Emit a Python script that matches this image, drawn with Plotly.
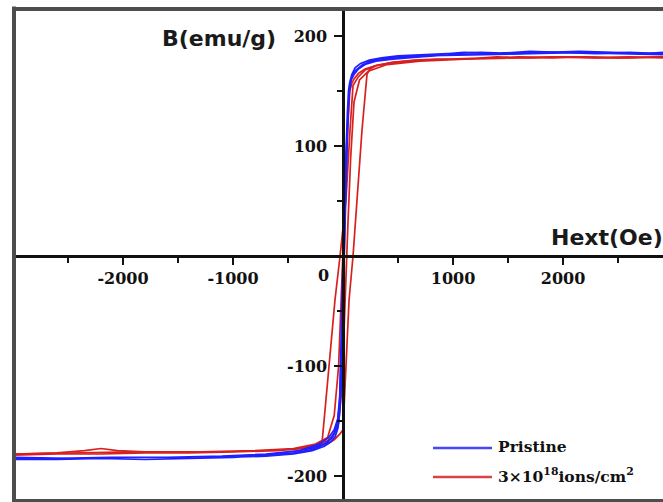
import plotly.graph_objects as go

# ---------------- data ----------------
# Pristine, loop 1 : descending branch then ascending branch
blue1_H = [2900, 2600, 2300, 2000, 1700, 1400, 1100, 850, 650, 480, 350, 250, 170, 120, 90, 70, 58, 50, 40, 28, 15, 6, 0, -6, -12, -20, -32, -50, -75, -110, -170, -280, -450, -700, -1000, -1400, -1800, -2200, -2600, -2991,
           -2991, -2600, -2200, -1800, -1400, -1000, -700, -450, -280, -170, -110, -70, -45, -28, -15, -5, 3, 12, 22, 35, 48, 62, 80, 110, 160, 240, 350, 500, 700, 950, 1250, 1550, 1850, 2150, 2450, 2750, 2909]
blue1_B = [184, 185, 184, 185, 186, 184, 185, 183, 182, 181, 179, 177, 173, 169, 165, 161, 156, 150, 130, 100, 60, 25, 0, -40, -80, -110, -135, -152, -160, -166, -171, -176, -179, -181, -183, -184, -185, -184, -185, -185,
           -185, -185, -184, -185, -184, -183, -182, -180, -177, -173, -169, -164, -156, -140, -115, -75, -30, 15, 60, 105, 140, 158, 165, 171, 175, 178, 180, 182, 183, 184, 185, 184, 185, 186, 185, 184, 185]

# Pristine, loop 2 (slightly offset repeat)
blue2_H = [2909, 2500, 2000, 1500, 1000, 700, 450, 300, 200, 140, 100, 75, 60, 48, 35, 20, 8, -2, -10, -18, -30, -48, -80, -130, -220, -400, -700, -1100, -1600, -2100, -2600, -2991,
           -2991, -2500, -2000, -1500, -1000, -650, -400, -250, -150, -95, -60, -38, -22, -10, 2, 14, 28, 42, 56, 75, 110, 180, 300, 500, 800, 1200, 1700, 2200, 2600, 2909]
blue2_B = [183, 184, 185, 184, 183, 181, 179, 177, 174, 170, 165, 160, 152, 135, 110, 70, 30, -10, -55, -95, -128, -148, -158, -165, -171, -177, -180, -182, -183, -183, -184, -184,
           -183, -184, -183, -183, -182, -180, -177, -174, -170, -165, -157, -142, -118, -80, -35, 15, 70, 118, 148, 160, 168, 174, 178, 180, 182, 183, 184, 185, 184, 184]

# 3x10^18 ions/cm2 : descending (left sheared line) then ascending (right sheared line)
red1_H = [2909, 2600, 2300, 2000, 1700, 1400, 1100, 850, 650, 450, 300, 200, 140, 105, 91, 64, 27, -27, -73, -127, -160, -191, -230, -350, -600, -1000, -1400, -1800, -2050, -2200, -2350, -2600, -2991,
          -2991, -2600, -2200, -1800, -1400, -1000, -600, -300, -150, -80, -30, 0, 27, 55, 91, 127, 173, 218, 245, 300, 450, 700, 1000, 1300, 1600, 1900, 2200, 2500, 2909]
red1_B = [180, 181, 180, 181, 180, 181, 179, 179, 178, 176, 173, 169, 163, 158, 155, 115, 51, 0, -40, -100, -135, -170, -173, -175, -177, -178, -178, -178, -177, -175, -177, -179, -180,
          -181, -180, -180, -179, -179, -178, -177, -174, -171, -167, -162, -158, -100, -40, 0, 51, 115, 165, 170, 173, 176, 178, 179, 180, 181, 180, 181, 180, 181]

# 3x10^18 ions/cm2 : second (steeper) loop following the knees
red2_H = [2909, 2400, 1900, 1400, 1000, 700, 450, 300, 200, 140, 100, 80, 62, 45, 25, 5, -15, -40, -80, -140, -250, -450, -800, -1300, -1900, -2500, -2991,
          -2991, -2400, -1800, -1200, -800, -450, -250, -140, -80, -40, -15, 5, 22, 45, 70, 100, 150, 230, 400, 700, 1100, 1600, 2100, 2600, 2909]
red2_B = [181, 180, 181, 180, 179, 178, 176, 173, 170, 166, 161, 157, 150, 120, 70, 15, -40, -100, -145, -165, -171, -175, -177, -178, -178, -179, -180,
          -180, -179, -178, -178, -177, -175, -172, -168, -162, -152, -125, -80, -30, 30, 90, 140, 160, 168, 174, 177, 179, 180, 181, 180, 181]

x_major = [-2000, -1000, 1000, 2000]
x_major_text = ["-2000", "-1000", "1000", "2000"]
x_minor = [-2500, -1500, -500, 500, 1500, 2500]
y_major = [-200, -100, 100, 200]
y_major_text = ["-200", "-100", "100", "200"]
y_minor = [-150, -50, 50, 150]

series_names = ["Pristine", "3×10<sup>18</sup>ions/cm<sup>2</sup>"]
BLUE = "#1f1fff"
RED = "#d8201f"

x_range = [-2991, 2909]
y_range = [-221.8, 224.5]

# ---------------- figure ----------------
fig = go.Figure()
for H, B, c in [(red1_H, red1_B, RED), (red2_H, red2_B, RED),
                (blue1_H, blue1_B, BLUE), (blue2_H, blue2_B, BLUE)]:
    fig.add_trace(go.Scatter(x=H, y=B, mode="lines", line=dict(color=c, width=1.7),
                             showlegend=False, hoverinfo="skip"))

tickfont = dict(family="DejaVu Serif", size=16, color="#111111", weight="bold")

x_pos = (0 - y_range[0]) / (y_range[1] - y_range[0])
y_pos = (0 - x_range[0]) / (x_range[1] - x_range[0])

fig.update_layout(
    width=663, height=502,
    margin=dict(l=14, r=0, t=9, b=2),
    paper_bgcolor="white", plot_bgcolor="white",
    showlegend=False,
    xaxis=dict(range=x_range, anchor="free", position=x_pos,
               showline=True, linecolor="#111111", linewidth=2.5,
               showgrid=False, zeroline=False,
               ticks="outside", ticklen=7, tickwidth=2, tickcolor="#111111",
               tickvals=x_major, ticktext=x_major_text, tickfont=tickfont,
               minor=dict(tickvals=x_minor, ticks="outside", ticklen=5, tickwidth=2, tickcolor="#111111"),
               fixedrange=True),
    yaxis=dict(range=y_range, anchor="free", position=y_pos,
               showline=True, linecolor="#111111", linewidth=2.5,
               showgrid=False, zeroline=False,
               ticks="outside", ticklen=8, tickwidth=2, tickcolor="#111111",
               tickvals=y_major, ticktext=y_major_text, tickfont=tickfont,
               ticklabelstandoff=4,
               minor=dict(tickvals=y_minor, ticks="outside", ticklen=5, tickwidth=2, tickcolor="#111111"),
               fixedrange=True),
)

def px_x(px):
    return (px - 14) / 649.0

def px_y(py):
    return (500 - py) / 491.0

# frame (left, top, bottom)
frame = dict(color="#4d4d4d", width=4)
fig.add_shape(type="line", xref="paper", yref="paper", x0=0, x1=0, y0=-0.01, y1=1.005, line=frame, layer="above")
fig.add_shape(type="line", xref="paper", yref="paper", x0=0, x1=1.05, y0=1, y1=1, line=frame, layer="above")
fig.add_shape(type="line", xref="paper", yref="paper", x0=0, x1=1.05, y0=-0.002, y1=-0.002, line=frame, layer="above")

# axis titles
title_font = dict(family="DejaVu Sans", size=22, color="#1a1a1a", weight="bold")
fig.add_annotation(text="B(emu/g)", xref="paper", yref="paper", x=px_x(278), y=px_y(38),
                   xanchor="right", yanchor="middle", showarrow=False, font=title_font)
fig.add_annotation(text="Hext(Oe)", xref="paper", yref="paper", x=px_x(549), y=px_y(238),
                   xanchor="left", yanchor="middle", showarrow=False, font=title_font)
# the "0" label of the field axis sits left of the vertical axis
fig.add_annotation(text="0", xref="x", yref="y", x=0, y=0, xshift=-20, yshift=-20,
                   xanchor="center", yanchor="middle", showarrow=False, font=tickfont)

# legend (drawn by hand: long line samples)
leg_font = dict(family="DejaVu Serif", size=15.5, color="#111111", weight="bold")
for name, color, ly, ty in [(series_names[0], "#4646ff", 448, 446), (series_names[1], "#d84444", 477, 475)]:
    fig.add_shape(type="line", xref="paper", yref="paper", x0=px_x(433), x1=px_x(492),
                  y0=px_y(ly), y1=px_y(ly), line=dict(color=color, width=2.5))
    fig.add_annotation(text=name, xref="paper", yref="paper", x=px_x(496), y=px_y(ty),
                       xanchor="left", yanchor="middle", showarrow=False, font=leg_font)

fig.write_html("out.html")
